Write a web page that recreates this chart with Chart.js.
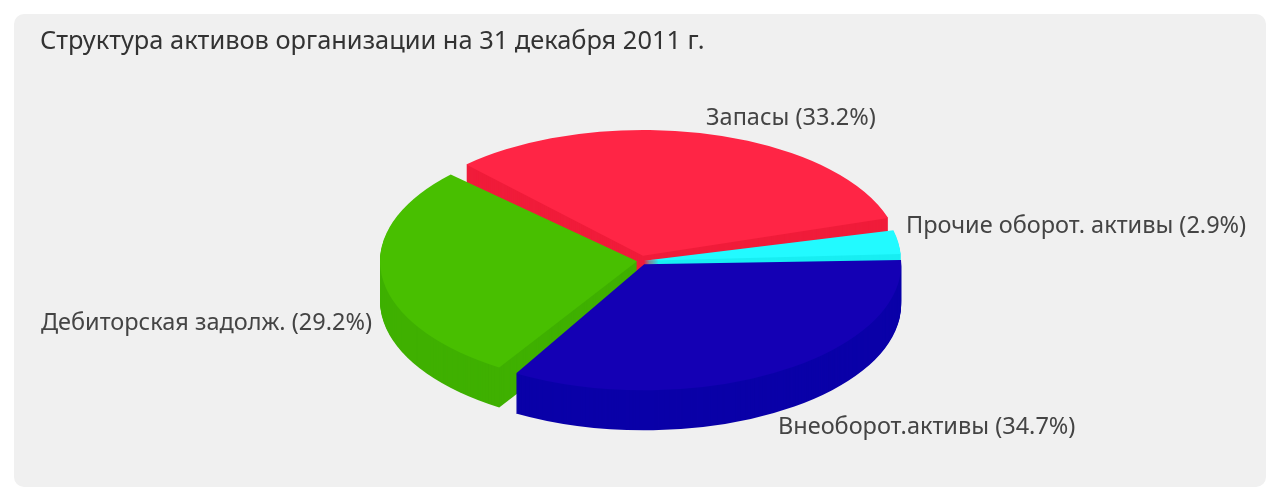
<!DOCTYPE html>
<html lang="ru">
<head>
<meta charset="utf-8">
<title>Структура активов</title>
<script src="https://cdn.jsdelivr.net/npm/chart.js@4/dist/chart.umd.min.js"></script>
<style>
    html, body { margin: 0; background: #fff; }
    #panel { position: absolute; left: 14px; top: 14px; width: 1252px; height: 473px; background: #f0f0f0; border-radius: 10px; }
    #grafik { position: absolute; left: 0; top: 0; }
</style>
</head>
<body>
<div id="panel"></div>
<canvas id="grafik" width="1280" height="500"></canvas>
<script>
// Data
const categories = ['Внеоборот.активы', 'Дебиторская задолж.', 'Запасы', 'Прочие оборот. активы'];
const values = [34.7, 29.2, 33.2, 2.9];

// Colours: top face and side wall of each slice
const topColors = ['#1400b4', '#48bf00', '#ff2545', '#22faff'];
const wallColors = ['#0a00a8', '#3fb000', '#f01c3a', '#18eef2'];

// How far each slice is pulled out of the pie
const explode = [8, 3, 11, 4];
// Gaps between slices, degrees trimmed at each end
const trimStart = [2, 1.5, 0.5, 0.5];
const trimEnd = [1, 2.5, 3, -1];
// back to front
const drawOrder = [2, 3, 1, 0];

const CX = 640, CY = 261, SQUASH = 0.49, DEPTH = 40;
const FONT = '"Noto Sans", sans-serif';
const DEG = Math.PI / 180;

function fillSlice(ctx, arc, i, drop, color) {
    const mid = (arc.startAngle + arc.endAngle) / 2;
    ctx.save();
    ctx.translate(CX + Math.cos(mid) * explode[i], CY + drop + Math.sin(mid) * explode[i] * SQUASH);
    ctx.scale(1, SQUASH);
    ctx.beginPath();
    ctx.moveTo(0, 0);
    ctx.arc(0, 0, arc.outerRadius, arc.startAngle + trimStart[i] * DEG, arc.endAngle - trimEnd[i] * DEG);
    ctx.closePath();
    ctx.fillStyle = color;
    ctx.fill();
    ctx.restore();
}

// Draws the pie tilted, with a side wall under each slice
const pie3d = {
    id: 'pie3d',
    beforeDatasetDraw(chart) {
        const ctx = chart.ctx;
        const arcs = chart.getDatasetMeta(0).data;
        drawOrder.forEach(i => {
            for (let d = DEPTH; d > 0; d--) {
                fillSlice(ctx, arcs[i], i, d, wallColors[i]);
            }
            fillSlice(ctx, arcs[i], i, 0, topColors[i]);
        });
        return false;
    }
};

// Slice captions
const labelPlaces = [
    { x: 778, y: 427, align: 'left' },
    { x: 372, y: 323, align: 'right' },
    { x: 706, y: 118, align: 'left' },
    { x: 906, y: 226, align: 'left' }
];

const sliceLabels = {
    id: 'sliceLabels',
    afterDraw(chart) {
        const ctx = chart.ctx;
        ctx.save();
        ctx.font = '23.5px ' + FONT;
        ctx.fillStyle = '#444444';
        ctx.textBaseline = 'middle';
        categories.forEach((name, i) => {
            ctx.textAlign = labelPlaces[i].align;
            ctx.fillText(`${name} (${values[i]}%)`, labelPlaces[i].x, labelPlaces[i].y);
        });
        ctx.restore();
    }
};

new Chart(document.getElementById('grafik'), {
    type: 'pie',
    data: {
        labels: categories,
        datasets: [{
            data: values,
            backgroundColor: topColors,
            borderWidth: 0,
            radius: 257
        }]
    },
    options: {
        responsive: false,
        animation: false,
        rotation: 86,
        layout: { padding: { left: 40, top: 27 } },
        plugins: {
            legend: { display: false },
            tooltip: { enabled: false },
            title: {
                display: true,
                text: 'Структура активов организации на 31 декабря 2011 г.',
                align: 'start',
                color: '#333333',
                font: { family: FONT, size: 25.4, weight: 'normal' },
                padding: 0
            }
        }
    },
    plugins: [pie3d, sliceLabels]
});
</script>
</body>
</html>
